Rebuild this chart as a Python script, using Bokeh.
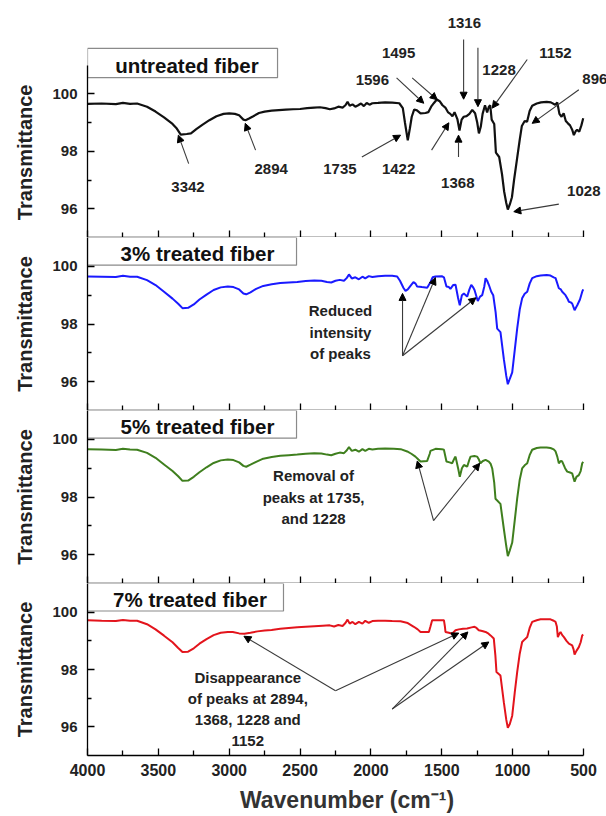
from bokeh.plotting import figure
from bokeh.layouts import column
from bokeh.models import Range1d, FixedTicker, Arrow, NormalHead, Label
from bokeh.embed import file_html
from bokeh.resources import INLINE

FONT = "Liberation Sans"

# ---------------- data (wavenumber cm-1, transmittance) ----------------
wn_untreated = [4000, 3900, 3800, 3750, 3700, 3650, 3580, 3520, 3460, 3400, 3370, 3342, 3300, 3270,
                3230, 3190, 3140, 3090, 3040, 3000, 2960, 2930, 2900, 2885, 2860, 2830, 2790, 2750,
                2700, 2650, 2600, 2550, 2500, 2450, 2400, 2360, 2320, 2290, 2260, 2230, 2200, 2180,
                2165, 2150, 2130, 2110, 2090, 2070, 2050, 2030, 2010, 1990, 1950, 1900, 1850, 1800,
                1775, 1760, 1740, 1725, 1712, 1695, 1675, 1650, 1615, 1595, 1575, 1555, 1535, 1515,
                1495, 1475, 1455, 1440, 1425, 1410, 1390, 1375, 1360, 1345, 1325, 1305, 1285, 1265,
                1250, 1238, 1225, 1212, 1195, 1180, 1168, 1158, 1148, 1130, 1118, 1095, 1075, 1060,
                1045, 1034, 1020, 1005, 990, 970, 950, 935, 915, 898, 880, 862, 830, 800, 760, 730,
                700, 685, 670, 655, 640, 625, 610, 595, 580, 568, 555, 545, 530, 515, 502]
t_untreated = [99.65, 99.66, 99.64, 99.68, 99.65, 99.66, 99.55, 99.38, 99.18, 98.95, 98.79, 98.58, 98.60, 98.62,
               98.78, 98.92, 99.08, 99.22, 99.30, 99.32, 99.30, 99.25, 99.10, 99.08, 99.14, 99.22, 99.33, 99.38,
               99.41, 99.43, 99.45, 99.46, 99.47, 99.50, 99.52, 99.53, 99.50, 99.46, 99.49, 99.55, 99.52, 99.60,
               99.72, 99.58, 99.63, 99.55, 99.60, 99.66, 99.57, 99.68, 99.62, 99.67, 99.68, 99.70, 99.69, 99.67,
               99.50, 99.00, 98.38, 98.80, 99.20, 99.45, 99.42, 99.32, 99.33, 99.36, 99.55, 99.68, 99.80, 99.74,
               99.60, 99.52, 99.35, 99.30, 99.22, 99.36, 99.12, 98.72, 99.10, 99.20, 99.22, 99.30, 99.44, 99.32,
               99.00, 98.62, 98.85, 99.30, 99.60, 99.35, 99.55, 99.60, 99.10, 98.95, 97.95, 97.80, 97.20, 96.60,
               96.20, 95.97, 96.15, 96.40, 97.00, 97.70, 98.40, 98.88, 99.05, 99.03, 99.40, 99.58, 99.66, 99.70, 99.72, 99.70,
               99.62, 99.70, 99.30, 99.20, 99.32, 99.05, 98.97, 98.90, 98.75, 98.56, 98.70, 98.74, 98.68, 98.90, 99.15]

wn_3pct = [4000, 3900, 3800, 3750, 3700, 3650, 3580, 3520, 3460, 3400, 3360, 3330, 3290, 3250,
           3210, 3160, 3110, 3060, 3010, 2970, 2930, 2900, 2880, 2850, 2810, 2760, 2700, 2640,
           2580, 2520, 2460, 2400, 2350, 2310, 2280, 2250, 2220, 2190, 2170, 2155, 2135, 2110,
           2085, 2060, 2040, 2015, 1990, 1950, 1900, 1850, 1815, 1795, 1770, 1756, 1740, 1721,
           1700, 1685, 1674, 1640, 1603, 1580, 1565, 1545, 1500, 1485, 1467, 1450, 1439, 1420,
           1403, 1385, 1373, 1358, 1344, 1321, 1305, 1292, 1280, 1269, 1246, 1230, 1215, 1200,
           1191, 1180, 1168, 1151, 1137, 1120, 1109, 1086, 1062, 1045, 1034, 1020, 1003, 985,
           968, 950, 933, 915, 897, 880, 862, 830, 803, 760, 733, 710, 697, 674, 660, 650,
           627, 610, 603, 590, 580, 563, 550, 544, 525, 509, 502]
t_3pct = [99.65, 99.64, 99.63, 99.67, 99.64, 99.64, 99.52, 99.35, 99.12, 98.88, 98.70, 98.55, 98.56, 98.68,
          98.85, 99.02, 99.18, 99.27, 99.30, 99.28, 99.20, 99.06, 99.03, 99.10, 99.22, 99.32, 99.38, 99.42,
          99.44, 99.46, 99.49, 99.51, 99.50, 99.46, 99.44, 99.50, 99.53, 99.50, 99.60, 99.72, 99.58, 99.62,
          99.55, 99.64, 99.58, 99.66, 99.63, 99.66, 99.67, 99.67, 99.65, 99.50, 99.25, 99.15, 99.20, 99.32,
          99.45, 99.40, 99.30, 99.28, 99.26, 99.45, 99.62, 99.65, 99.66, 99.62, 99.30, 99.28, 99.22, 99.35,
          99.36, 98.90, 98.65, 99.00, 99.06, 98.95, 99.20, 99.36, 99.28, 99.18, 98.80, 98.95, 99.00, 99.30,
          99.59, 99.50, 99.36, 99.12, 99.00, 98.40, 97.84, 97.72, 96.78, 96.20, 95.91, 96.10, 96.32, 97.10,
          97.84, 98.50, 98.89, 99.05, 99.12, 99.40, 99.59, 99.66, 99.68, 99.70, 99.68, 99.62, 99.59, 99.24, 99.20, 99.12,
          99.00, 98.85, 98.77, 98.75, 98.71, 98.48, 98.60, 98.65, 98.85, 99.12, 99.20]

wn_5pct = [4000, 3900, 3800, 3750, 3700, 3650, 3580, 3520, 3460, 3400, 3360, 3330, 3290, 3250,
           3210, 3160, 3110, 3060, 3010, 2970, 2930, 2900, 2880, 2850, 2810, 2760, 2700, 2640,
           2580, 2520, 2460, 2400, 2350, 2310, 2280, 2250, 2220, 2190, 2170, 2155, 2135, 2110,
           2085, 2060, 2040, 2015, 1990, 1950, 1900, 1839, 1790, 1744, 1715, 1686, 1665, 1650,
           1603, 1585, 1580, 1544, 1500, 1485, 1467, 1445, 1427, 1410, 1403, 1385, 1373, 1358,
           1344, 1321, 1305, 1297, 1270, 1250, 1238, 1227, 1210, 1191, 1168, 1155, 1144, 1130,
           1121, 1086, 1062, 1045, 1034, 1020, 1003, 985, 968, 950, 933, 915, 897, 880, 862,
           830, 803, 760, 733, 710, 697, 685, 674, 660, 650, 630, 615, 595, 580, 563, 550,
           533, 520, 509, 502]
t_5pct = [99.66, 99.65, 99.63, 99.67, 99.65, 99.64, 99.53, 99.36, 99.13, 98.90, 98.72, 98.56, 98.57, 98.70,
          98.86, 99.03, 99.18, 99.27, 99.30, 99.28, 99.20, 99.08, 99.05, 99.12, 99.22, 99.33, 99.39, 99.43,
          99.45, 99.47, 99.50, 99.52, 99.51, 99.47, 99.45, 99.50, 99.54, 99.52, 99.62, 99.73, 99.60, 99.64,
          99.57, 99.66, 99.60, 99.67, 99.65, 99.67, 99.68, 99.67, 99.66, 99.58, 99.50, 99.40, 99.30, 99.23,
          99.25, 99.50, 99.60, 99.67, 99.66, 99.64, 99.23, 99.20, 99.17, 99.35, 99.40, 99.00, 98.70, 99.00,
          99.11, 99.05, 99.30, 99.40, 99.42, 99.40, 99.30, 99.17, 99.25, 99.29, 99.23, 99.15, 98.99, 98.50,
          97.94, 97.76, 96.89, 96.30, 95.95, 96.15, 96.42, 97.20, 97.94, 98.60, 98.99, 99.10, 99.17, 99.45, 99.64,
          99.70, 99.72, 99.72, 99.70, 99.65, 99.58, 99.40, 99.17, 99.25, 99.23, 99.00, 98.88, 98.85, 98.82, 98.53, 98.70,
          98.76, 98.90, 99.17, 99.22]

wn_7pct = [4000, 3900, 3800, 3750, 3700, 3650, 3580, 3520, 3460, 3400, 3360, 3330, 3290, 3250,
           3210, 3160, 3110, 3060, 3010, 2975, 2930, 2893, 2850, 2800, 2750, 2701, 2640, 2580,
           2520, 2460, 2400, 2340, 2291, 2260, 2230, 2200, 2180, 2165, 2150, 2130, 2110, 2085,
           2060, 2040, 2015, 1990, 1950, 1900, 1850, 1791, 1740, 1697, 1670, 1650, 1591, 1580,
           1568, 1500, 1485, 1478, 1474, 1450, 1427, 1403, 1380, 1350, 1321, 1290, 1269, 1255,
           1239, 1215, 1191, 1170, 1156, 1133, 1122, 1114, 1086, 1062, 1045, 1034, 1020, 1003,
           985, 968, 950, 933, 915, 897, 880, 862, 830, 803, 733, 710, 697, 688, 681, 670,
           662, 650, 638, 620, 603, 580, 570, 563, 550, 533, 520, 509, 502]
t_7pct = [99.72, 99.70, 99.69, 99.73, 99.70, 99.70, 99.58, 99.40, 99.18, 98.95, 98.75, 98.61, 98.62, 98.74,
          98.90, 99.06, 99.20, 99.28, 99.31, 99.31, 99.26, 99.25, 99.28, 99.33, 99.36, 99.38, 99.42, 99.45,
          99.47, 99.49, 99.51, 99.53, 99.54, 99.50, 99.55, 99.52, 99.62, 99.74, 99.60, 99.66, 99.58, 99.66,
          99.60, 99.70, 99.63, 99.69, 99.70, 99.70, 99.69, 99.68, 99.62, 99.49, 99.40, 99.31, 99.31, 99.50,
          99.72, 99.72, 99.72, 99.50, 99.31, 99.28, 99.25, 99.37, 99.40, 99.42, 99.43, 99.47, 99.49, 99.45,
          99.37, 99.34, 99.31, 99.25, 99.19, 99.08, 98.50, 97.91, 97.79, 96.85, 96.25, 95.97, 96.10, 96.39,
          97.20, 97.91, 98.55, 98.96, 99.05, 99.13, 99.45, 99.66, 99.72, 99.75, 99.75, 99.70, 99.66, 99.50, 99.13, 99.25,
          99.31, 99.20, 99.13, 99.00, 98.90, 98.84, 98.70, 98.52, 98.65, 98.78, 98.95, 99.19, 99.22]

panel_names = ["untreated fiber", "3% treated fiber", "5% treated fiber", "7% treated fiber"]
line_colors = ["#111111", "#1a1aff", "#3f7f1e", "#e3141c"]
x_major = [4000, 3500, 3000, 2500, 2000, 1500, 1000, 500]
x_minor = [3750, 3250, 2750, 2250, 1750, 1250, 750]
y_major = [96, 98, 100]
y_minor = [97, 99]

# peak labels of the untreated spectrum: (text, label x, label y, arrow tail, arrow head)
peak_labels = ["3342", "2894", "1735", "1422", "1368", "1596", "1495", "1316", "1228", "1152", "896", "1028"]
peak_text_x = [3291, 2704, 2219, 1805, 1387, 1990, 1805, 1341, 1096, 698, 420, 498]
peak_text_y = [96.75, 97.37, 97.37, 97.37, 96.90, 100.47, 101.43, 102.46, 100.84, 101.43, 100.50, 96.61]
arrow_x0 = [3286, 2814, 2064, 1572, 1382, 1819, 1709, 1346, 1245, 897, 533, 674]
arrow_y0 = [97.57, 98.04, 97.80, 98.04, 97.80, 100.55, 100.55, 101.89, 101.60, 101.19, 100.14, 96.16]
arrow_x1 = [3359, 2887, 1791, 1450, 1382, 1627, 1532, 1346, 1245, 1144, 862, 992]
arrow_y1 = [98.56, 98.97, 98.56, 98.99, 98.56, 99.67, 99.79, 99.81, 99.55, 99.50, 98.97, 95.90]

FIG_W = 606
LEFT = 87
PX_PER_WN = 496 / 3500.0
PX_PER_UNIT = 28.75
X_END = 500 - (FIG_W - LEFT - 496) / PX_PER_WN   # frame reaches the right edge of the page


def base_panel(height, y_end, bottom_border, show_x_labels, y_title):
    p = figure(width=FIG_W, height=height, x_range=Range1d(4000, X_END), y_range=Range1d(95, y_end),
               output_backend="svg", toolbar_location=None,
               min_border_left=LEFT, min_border_right=0, min_border_top=0,
               min_border_bottom=bottom_border)
    p.outline_line_color = None
    p.grid.visible = False
    p.background_fill_color = "white"
    p.border_fill_color = "white"

    xa = p.xaxis[0]
    xa.ticker = FixedTicker(ticks=x_major, minor_ticks=x_minor)
    xa.bounds = (500, 4000)
    xa.axis_line_color = "black"
    xa.axis_line_width = 1.3
    xa.major_tick_line_color = "black"
    xa.minor_tick_line_color = "black"
    xa.major_tick_line_width = 1.3
    xa.minor_tick_line_width = 1.3
    xa.major_tick_in = 7
    xa.major_tick_out = 0
    xa.minor_tick_in = 5
    xa.minor_tick_out = 0
    if show_x_labels:
        xa.major_label_text_font = FONT
        xa.major_label_text_font_style = "bold"
        xa.major_label_text_font_size = "16px"
        xa.major_label_text_color = "#222222"
        xa.major_label_standoff = 8
        xa.axis_label = "Wavenumber (cm\u207b\u00b9)"
        xa.axis_label_text_font = FONT
        xa.axis_label_text_font_style = "bold"
        xa.axis_label_text_font_size = "23px"
        xa.axis_label_text_color = "#333333"
        xa.axis_label_standoff = 8
    else:
        xa.major_label_overrides = {v: "" for v in x_major}
        xa.major_label_text_font_size = "1px"
        xa.major_label_standoff = 0

    ya = p.yaxis[0]
    ya.ticker = FixedTicker(ticks=y_major, minor_ticks=y_minor)
    ya.bounds = (95, 101)
    ya.axis_line_color = "black"
    ya.axis_line_width = 1.3
    ya.major_tick_line_color = "black"
    ya.minor_tick_line_color = "black"
    ya.major_tick_line_width = 1.3
    ya.minor_tick_line_width = 1.3
    ya.major_tick_in = 7
    ya.major_tick_out = 0
    ya.minor_tick_in = 4
    ya.minor_tick_out = 0
    ya.major_label_text_font = FONT
    ya.major_label_text_font_style = "bold"
    ya.major_label_text_font_size = "15px"
    ya.major_label_text_color = "#222222"
    ya.major_label_standoff = 10
    ya.axis_label = y_title
    ya.axis_label_text_font = FONT
    ya.axis_label_text_font_style = "bold"
    ya.axis_label_text_font_size = "20px"
    ya.axis_label_text_color = "#222222"
    ya.axis_label_standoff = 13
    return p


def add_box(p, text, right_wn, y_bottom, y_top, text_wn, text_y):
    p.quad(left=[4000], right=[right_wn], bottom=[y_bottom], top=[y_top],
           fill_color="white", line_color="#8a8a8a", line_width=1.2)
    p.add_layout(Label(x=text_wn, y=text_y, text=text, text_font=FONT, text_font_style="bold",
                       text_font_size="20.5px", text_color="#111111",
                       text_align="center", text_baseline="middle"))


def add_arrow(p, x0, y0, x1, y1):
    p.add_layout(Arrow(end=NormalHead(size=7, fill_color="black", line_color="black"),
                       x_start=x0, y_start=y0, x_end=x1, y_end=y1,
                       line_color="#3a3a3a", line_width=1.1))


def add_note(p, text, x, y):
    p.add_layout(Label(x=x, y=y, text=text, text_font=FONT, text_font_style="bold",
                       text_font_size="15px", text_color="#222222",
                       text_align="center", text_baseline="middle", text_line_height=1.25))


Y_TITLE = "Transmittance"

# ---------- panel 1 ----------
h1 = 237
p1 = base_panel(h1, 95 + h1 / PX_PER_UNIT, 0, False, Y_TITLE + "\u00a0" * 12)
p1.line(wn_untreated, t_untreated, line_color=line_colors[0], line_width=2.2)
add_box(p1, panel_names[0], 2659, 100.56, 101.58, 3298, 100.98)
for i in range(len(peak_labels)):
    add_arrow(p1, arrow_x0[i], arrow_y0[i], arrow_x1[i], arrow_y1[i])
    add_note(p1, peak_labels[i], peak_text_x[i], peak_text_y[i])

# ---------- panel 2 ----------
p2 = base_panel(173, 101, 0, False, Y_TITLE)
p2.line(wn_3pct, t_3pct, line_color=line_colors[1], line_width=2)
add_box(p2, panel_names[1], 2525, 100.04, 101, 3224, 100.43)
add_note(p2, "Reduced\nintensity\nof peaks", 2215, 97.72)
for hx, hy in [(1777, 99.06), (1545, 99.61), (1259, 98.91)]:
    add_arrow(p2, 1777, 96.90, hx, hy)

# ---------- panel 3 ----------
p3 = base_panel(173, 101, 0, False, Y_TITLE)
p3.line(wn_5pct, t_5pct, line_color=line_colors[2], line_width=2)
add_box(p3, panel_names[2], 2525, 100.04, 101, 3224, 100.43)
add_note(p3, "Removal of\npeaks at 1735,\nand 1228", 2405, 98.0)
for hx, hy in [(1673, 99.25), (1232, 99.17)]:
    add_arrow(p3, 1558, 97.18, hx, hy)

# ---------- panel 4 ----------
p4 = base_panel(233, 101, 61, True, Y_TITLE)
p4.line(wn_7pct, t_7pct, line_color=line_colors[3], line_width=2)
add_box(p4, panel_names[3], 2617, 100.04, 101, 3277, 100.45)
add_note(p4, "Disappearance\nof peaks at 2894,\n1368, 1228 and\n1152", 2869, 96.62)
for hx, hy in [(2896, 99.16), (1380, 99.27)]:
    add_arrow(p4, 2250, 97.26, hx, hy)
for hx, hy in [(1316, 99.31), (1168, 98.96)]:
    add_arrow(p4, 1850, 96.62, hx, hy)

layout = column(p1, p2, p3, p4, spacing=0)
open("out.html", "w").write(file_html(layout, INLINE))
